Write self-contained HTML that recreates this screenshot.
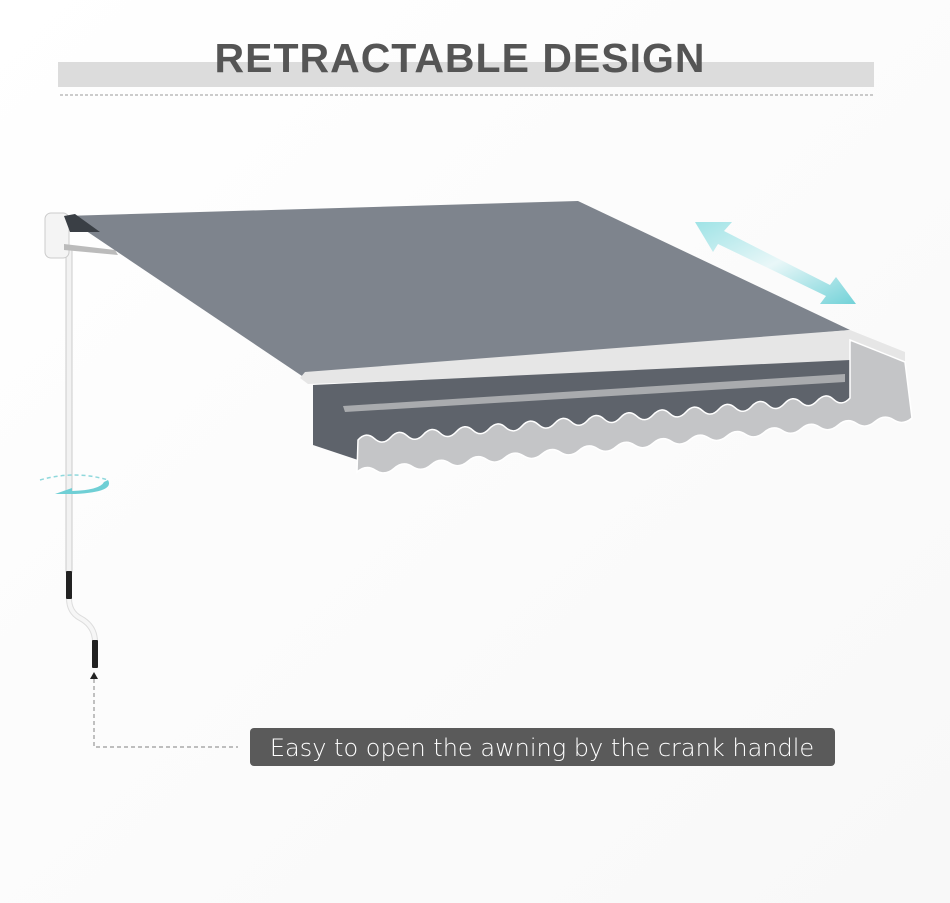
<!DOCTYPE html>
<html><head><style>
html,body{margin:0;padding:0;background:#fff;}
svg{display:block;}
</style></head><body>
<svg width="950" height="903" viewBox="0 0 950 903" xmlns="http://www.w3.org/2000/svg">
<defs>
<linearGradient id="bg" x1="0" y1="0" x2="1" y2="1"><stop offset="0" stop-color="#ffffff"/><stop offset="1" stop-color="#f8f8f8"/></linearGradient>
<linearGradient id="ar" x1="0" y1="0" x2="1" y2="1"><stop offset="0" stop-color="#9fe3e6"/><stop offset="0.5" stop-color="#e9f7f8"/><stop offset="1" stop-color="#72d2d8"/></linearGradient>
</defs>
<rect width="950" height="903" fill="url(#bg)"/>
<rect x="58" y="62" width="816" height="25" fill="#dcdcdc"/>
<text x="460" y="72" text-anchor="middle" font-family="Liberation Sans, sans-serif" font-weight="bold" font-size="41" fill="#555" letter-spacing="1">RETRACTABLE DESIGN</text>
<line x1="60" y1="95" x2="873" y2="95" stroke="#999" stroke-width="1" stroke-dasharray="3,2"/>

<!-- pole -->
<rect x="66" y="250" width="6" height="322" fill="#f2f2f2" stroke="#ccc" stroke-width="1"/>
<path d="M69 598 Q69 612 80 618 Q95 626 95 642" fill="none" stroke="#ddd" stroke-width="6"/>
<path d="M69 598 Q69 612 80 618 Q95 626 95 642" fill="none" stroke="#f6f6f6" stroke-width="4"/>
<rect x="66" y="571" width="6" height="28" rx="1" fill="#222"/>
<rect x="92" y="640" width="6" height="28" rx="1" fill="#222"/>

<!-- bracket -->
<rect x="45" y="213" width="24" height="45" rx="6" fill="#f4f4f4" stroke="#ccc"/>
<path d="M64 244 L115 250 L118 255 L64 250 Z" fill="#bbb"/>
<!-- canopy -->
<polygon points="64,216 578,201 850,330 305,378" fill="#7e848d"/>
<polygon points="64,216 75,214 100,232 70,232" fill="#3a3f45"/>
<!-- front bar -->
<polygon points="305,372 850,330 905,352 905,362 308,384 300,378" fill="#e6e6e6"/>
<!-- dark valance -->
<polygon points="313,385 850,360 850,420 358,460 313,445" fill="#5e636b"/>
<polygon points="343,406 845,374 845,382 345,412" fill="#a9abae"/>
<!-- light valance -->
<path d="M358,440 q8.2,-9 16.4,-1.4 t16.4,-1.4 t16.4,-1.4 t16.4,-1.4 t16.4,-1.4 t16.4,-1.4 t16.4,-1.4 t16.4,-1.4 t16.4,-1.4 t16.4,-1.4 t16.4,-1.4 t16.4,-1.4 t16.4,-1.4 t16.4,-1.4 t16.4,-1.4 t16.4,-1.4 t16.4,-1.4 t16.4,-1.4 t16.4,-1.4 t16.4,-1.4 t16.4,-1.4 t16.4,-1.4 t16.4,-1.4 t16.4,-1.4 t16.4,-1.4 t16.4,-1.4 t16.4,-1.4 t16.4,-1.4 t16.4,-1.4 t16.4,-1.4 L850,340 L905,362 L912,418 q-9.2,8 -18.5,1.8 t-18.5,1.8 t-18.5,1.8 t-18.5,1.8 t-18.5,1.8 t-18.5,1.8 t-18.5,1.8 t-18.5,1.8 t-18.5,1.8 t-18.5,1.8 t-18.5,1.8 t-18.5,1.8 t-18.5,1.8 t-18.5,1.8 t-18.5,1.8 t-18.5,1.8 t-18.5,1.8 t-18.5,1.8 t-18.5,1.8 t-18.5,1.8 t-18.5,1.8 t-18.5,1.8 t-18.5,1.8 t-18.5,1.8 t-18.5,1.8 t-18.5,1.8 t-18.5,1.8 t-18.5,1.8 t-18.5,1.8 t-18.5,1.8 Z" fill="#c4c5c7" stroke="#fff" stroke-width="1.5"/>

<!-- double arrow -->
<g fill="url(#ar)">
<polygon points="695,222 732,222 724,231 830,285 836,277 856,304 820,304 826,296 718,244 713,252"/>
</g>
<!-- rotate symbol -->
<path d="M40 480 Q75 470 108 480" fill="none" stroke="#8fd8dc" stroke-width="1.5" stroke-dasharray="4,3"/>
<path d="M108 480 Q115 492 75 494 L55 494 L72 488 L72 491 Q100 490 104 482 Z" fill="#6fcfd5"/>

<!-- dashed pointer -->
<polygon points="94,672 90,679 98,679" fill="#222"/>
<path d="M94 679 V747 H238" fill="none" stroke="#999" stroke-width="1.2" stroke-dasharray="4,3"/>
<rect x="250" y="728" width="585" height="38" rx="4" fill="#5a5a5a"/>
<text x="542" y="756" text-anchor="middle" font-family="DejaVu Sans, sans-serif" font-weight="300" font-size="24" fill="#fff">Easy to open the awning by the crank handle</text>
</svg>
</body></html>
